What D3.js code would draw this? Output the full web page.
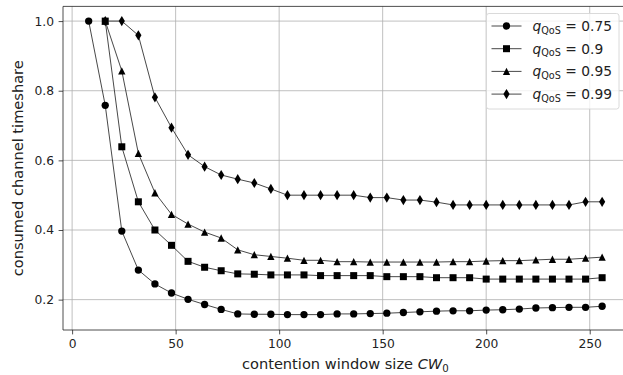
<!DOCTYPE html>
<html><head><meta charset="utf-8">
<script src="https://cdn.jsdelivr.net/npm/d3@7"></script>
<style>body{margin:0;background:#fff}svg{display:block;font-family:"DejaVu Sans",sans-serif}</style>
</head><body><svg id="c" width="623" height="375"></svg>
<script>
const xValues = [8,16,24,32,40,48,56,64,72,80,88,96,104,112,120,128,136,144,152,160,168,176,184,192,200,208,216,224,232,240,248,256];
const q075 = [1.0,0.758,0.397,0.285,0.245,0.219,0.201,0.186,0.172,0.159,0.158,0.158,0.157,0.157,0.157,0.159,0.159,0.160,0.161,0.163,0.165,0.167,0.168,0.168,0.170,0.171,0.173,0.176,0.177,0.178,0.178,0.181];
const q090 = [null,1.0,0.639,0.481,0.400,0.356,0.310,0.293,0.283,0.274,0.273,0.271,0.271,0.271,0.269,0.269,0.269,0.269,0.266,0.266,0.266,0.263,0.263,0.263,0.259,0.259,0.259,0.259,0.259,0.259,0.259,0.263];
const q095 = [null,1.0,0.857,0.620,0.507,0.445,0.417,0.394,0.377,0.343,0.329,0.324,0.319,0.313,0.313,0.309,0.309,0.308,0.308,0.308,0.308,0.308,0.309,0.309,0.311,0.312,0.312,0.314,0.316,0.316,0.319,0.322];
const q099 = [null,1.0,1.0,0.959,0.781,0.694,0.616,0.582,0.558,0.546,0.535,0.518,0.500,0.500,0.500,0.500,0.500,0.493,0.493,0.486,0.486,0.480,0.472,0.472,0.472,0.472,0.472,0.472,0.472,0.472,0.481,0.481];
const seriesNames = ["0.75","0.9","0.95","0.99"];
const markerTypes = ["circle","square","triangle","diamond"];
const xTicks = [0,50,100,150,200,250];
const yTicks = [0.2,0.4,0.6,0.8,1.0];
const xLabel = "contention window size ";
const yLabel = "consumed channel timeshare";

const svg = d3.select("#c");
const L = 63, R = 627.8, T = 6.4, B = 330;
const x = d3.scaleLinear().domain([-4.4, 268.4]).range([L, R]);
const y = d3.scaleLinear().domain([0.1128, 1.0422]).range([B, T]);
const FS = 12.3, LFS = 14.6, GFS = 13.8;
const ink = "#222";

// grid
const g = svg.append("g");
g.selectAll(".gx").data(xTicks).join("line").attr("x1",d=>x(d)).attr("x2",d=>x(d)).attr("y1",T).attr("y2",B).attr("stroke","#b0b0b0").attr("stroke-width",0.8);
g.selectAll(".gy").data(yTicks).join("line").attr("x1",L).attr("x2",623).attr("y1",d=>y(d)).attr("y2",d=>y(d)).attr("stroke","#b0b0b0").attr("stroke-width",0.8);

// axes
const xa = svg.append("g").attr("transform",`translate(0,${B})`).call(d3.axisBottom(x).tickValues(xTicks).tickFormat(d3.format("d")).tickSize(4.4).tickSizeOuter(0).tickPadding(4.5));
const ya = svg.append("g").attr("transform",`translate(${L},0)`).call(d3.axisLeft(y).tickValues(yTicks).tickFormat(d3.format(".1f")).tickSize(4.4).tickSizeOuter(0).tickPadding(4.5));
[xa,ya].forEach(a=>{a.select(".domain").remove();a.selectAll("line").attr("stroke",ink).attr("stroke-width",0.8);a.selectAll("text").attr("font-size",FS).attr("fill",ink).attr("font-family","DejaVu Sans");});
// spines
svg.append("line").attr("x1",L).attr("x2",L).attr("y1",T).attr("y2",B).attr("stroke",ink).attr("stroke-width",0.8);
svg.append("line").attr("x1",L).attr("x2",623).attr("y1",B).attr("y2",B).attr("stroke",ink).attr("stroke-width",0.8);
svg.append("line").attr("x1",L).attr("x2",623).attr("y1",T).attr("y2",T).attr("stroke",ink).attr("stroke-width",0.8);

// labels
const xl = svg.append("text").attr("x",(L+R)/2).attr("y",368.5).attr("text-anchor","middle").attr("font-size",LFS).attr("fill",ink);
xl.append("tspan").text(xLabel);
xl.append("tspan").attr("font-style","italic").text("CW");
xl.append("tspan").attr("font-size",LFS*0.7).attr("dy",3).text("0");
svg.append("text").attr("transform",`translate(19,${(T+B)/2}) rotate(-90)`).attr("text-anchor","middle").attr("dominant-baseline","middle").attr("font-size",LFS).attr("fill",ink).text(yLabel);

function drawMarker(sel, type) {
  if (type==="circle") sel.append("circle").attr("r",3.65);
  else if (type==="square") sel.append("rect").attr("x",-3.5).attr("y",-3.5).attr("width",7).attr("height",7);
  else if (type==="triangle") sel.append("path").attr("d","M0,-3.65L3.65,3.65L-3.65,3.65Z");
  else sel.append("path").attr("d","M0,-5.1L3.1,0L0,5.1L-3.1,0Z");
}

const all = [q075,q090,q095,q099];
const plot = svg.append("g");
const line = d3.line().defined(d=>d[1]!=null).x(d=>x(d[0])).y(d=>y(d[1]));
all.forEach((vals,i)=>{
  const pts = xValues.map((xv,j)=>[xv, vals[j]]);
  plot.append("path").attr("d",line(pts)).attr("fill","none").attr("stroke","#333").attr("stroke-width",0.9);
  pts.filter(d=>d[1]!=null).forEach(d=>{
    const m = plot.append("g").attr("transform",`translate(${x(d[0])},${y(d[1])})`).attr("fill","#000");
    drawMarker(m, markerTypes[i]);
  });
});

// legend
const lg = svg.append("g");
lg.append("rect").attr("x",486.5).attr("y",13.5).attr("width",132.5).attr("height",95.5).attr("rx",2.5).attr("fill","#fff").attr("fill-opacity",0.8).attr("stroke","#d6d6d6").attr("stroke-width",0.9);
seriesNames.forEach((n,i)=>{
  const cy = 26 + i*22.7;
  lg.append("line").attr("x1",491.5).attr("x2",521.5).attr("y1",cy).attr("y2",cy).attr("stroke","#333").attr("stroke-width",0.9);
  const m = lg.append("g").attr("transform",`translate(506.5,${cy})`).attr("fill","#000");
  drawMarker(m, markerTypes[i]);
  const t = lg.append("text").attr("x",532.5).attr("y",cy+5).attr("font-size",GFS).attr("fill",ink);
  t.append("tspan").attr("font-style","italic").text("q");
  t.append("tspan").attr("font-size",GFS*0.7).attr("dy",2.6).text("QoS");
  t.append("tspan").attr("dy",-2.6).text(" = " + n);
});
</script></body></html>
